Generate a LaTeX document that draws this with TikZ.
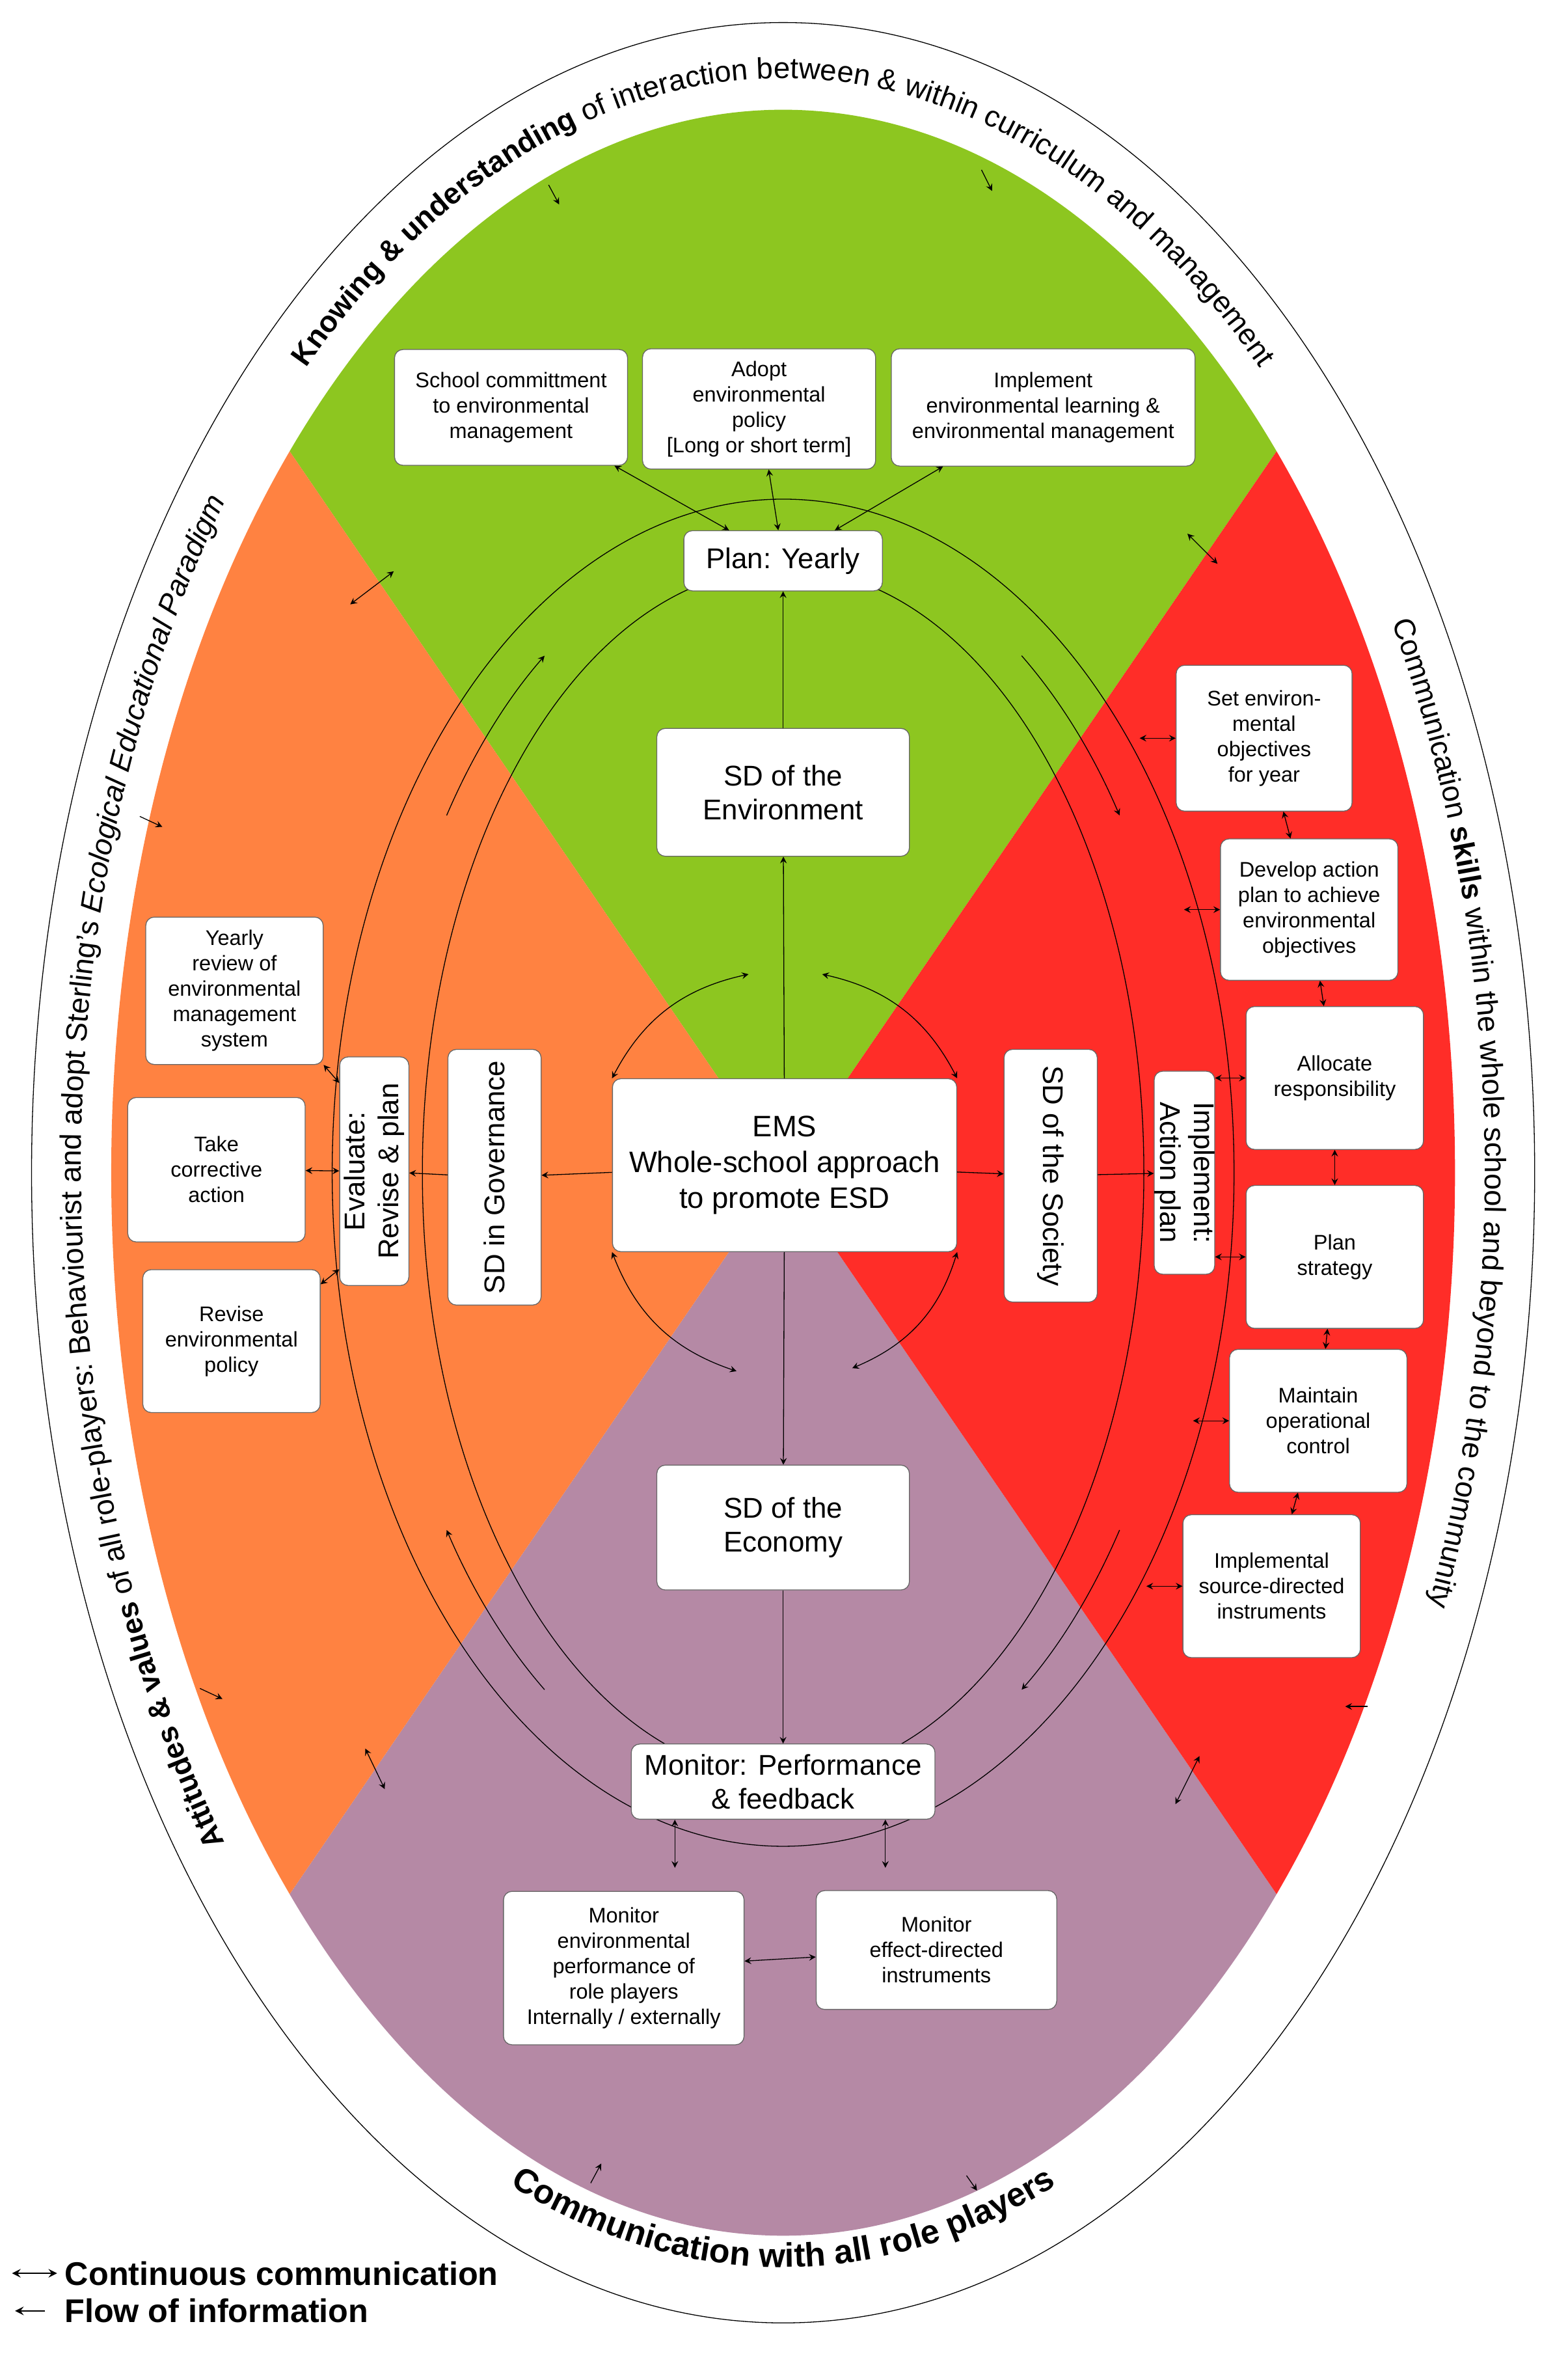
\documentclass[tikz,border=0pt]{standalone}
\usepackage{fontspec}
\setmainfont{Liberation Sans}
\usetikzlibrary{positioning,decorations.text,arrows}
\definecolor{envgreen}{RGB}{141,198,32}
\definecolor{socred}{RGB}{255,45,40}
\definecolor{govorange}{RGB}{255,130,65}
\definecolor{ecopurple}{RGB}{181,137,165}
\tikzset{
  box/.style={draw=black!60, fill=white, rounded corners=4pt, align=center,
    font=\fontsize{10}{12}\selectfont, inner sep=1pt},
  bigbox/.style={box, font=\fontsize{13.5}{16}\selectfont},
  comm/.style={<->, >=stealth},
  flow/.style={->, >=stealth},
  ringtext/.style={decorate, decoration={text along path, text align=center}}
}
\begin{document}
\begin{tikzpicture}[x=0.025cm,y=0.025cm]
\useasboundingbox (0,0) rectangle (1043,1573);
\coordinate (c) at (521,793);

% Quadrants
\begin{scope}
  \clip (c) ellipse [x radius=447, y radius=707];
  \fill[envgreen]  (c) -- ++(-975,1425) -- ++(1950,0) -- cycle;
  \fill[ecopurple] (c) -- ++(-975,-1425) -- ++(1950,0) -- cycle;
  \fill[govorange] (c) -- ++(-975,1425) -- ++(0,-2850) -- cycle;
  \fill[socred]    (c) -- ++(975,1425) -- ++(0,-2850) -- cycle;
\end{scope}
\draw (c) ellipse [x radius=500, y radius=765];
\draw (c) ellipse [x radius=300, y radius=448];
\draw (c) ellipse [x radius=240, y radius=402];

% Ring texts
\begin{scope}
\fontsize{14}{16}\selectfont
\path[ringtext, decoration={text={|\bfseries|Knowing {\&} understanding|| of interaction between {\&} within curriculum and management}}]
  ([shift={(143:468 and 728)}]c) arc[start angle=143, end angle=37, x radius=468, y radius=728];
\path[ringtext, decoration={text={|\bfseries|Attitudes {\&} values|| of all role-players: Behaviourist and adopt Sterling's |\itshape|Ecological Educational Paradigm}}]
  ([shift={(219:467 and 735)}]c) arc[start angle=219, end angle=141, x radius=467, y radius=735];
\path[ringtext, decoration={text={Communication |\bfseries|skills|| within the whole school and beyond to the community}}]
  ([shift={(33:467 and 735)}]c) arc[start angle=33, end angle=-26, x radius=467, y radius=735];
\end{scope}
\begin{scope}
\fontsize{16}{18}\selectfont
\path[ringtext, decoration={text={|\bfseries|Communication with all role players}}]
  ([shift={(245:478 and 728)}]c) arc[start angle=245, end angle=295, x radius=478, y radius=728];
\end{scope}

% Flow arcs on the cycle
\draw[flow] ([shift={(146:270 and 425)}]c) arc[start angle=146, end angle=126, x radius=270, y radius=425];
\draw[flow] ([shift={(54:270 and 425)}]c) arc[start angle=54, end angle=34, x radius=270, y radius=425];
\draw[flow] ([shift={(-34:270 and 425)}]c) arc[start angle=-34, end angle=-54, x radius=270, y radius=425];
\draw[flow] ([shift={(-126:270 and 425)}]c) arc[start angle=-126, end angle=-146, x radius=270, y radius=425];

% Nodes
\node[box, minimum width=3.875cm, minimum height=1.925cm] (commit) at (340,1302) {School committment\\to environmental\\management};
\node[box, minimum width=3.875cm, minimum height=2cm] (adopt) at (505,1301) {Adopt\\environmental\\policy\\{[}Long or short term{]}};
\node[box, minimum width=5.05cm, minimum height=1.95cm] (implem) at (694,1302) {Implement\\environmental learning \&\\environmental management};
\node[bigbox, minimum width=3.3cm, minimum height=1cm] (plan) at (521,1200) {Plan: Yearly};
\node[bigbox, minimum width=4.2cm, minimum height=2.125cm] (sdenv) at (521,1046) {SD of the\\Environment};
\node[box, font=\fontsize{14}{17}\selectfont, minimum width=5.725cm, minimum height=2.875cm] (ems) at (522,798) {EMS\\Whole-school approach\\to promote ESD};
\node[bigbox, minimum width=4.2cm, minimum height=2.075cm] (sdeco) at (521,557) {SD of the\\Economy};
\node[bigbox, minimum width=5.05cm, minimum height=1.25cm] (monitor) at (521,388) {Monitor: Performance\\\& feedback};
\node[box, minimum width=4cm, minimum height=2.55cm] (monrole) at (415,264) {Monitor\\environmental\\performance of\\role players\\Internally / externally};
\node[box, minimum width=4cm, minimum height=1.975cm] (moneff) at (623,276) {Monitor\\effect-directed\\instruments};
\node[bigbox, rotate=90, minimum width=4.25cm, minimum height=1.55cm] (sdgov) at (329,790) {SD in Governance};
\node[bigbox, rotate=90, minimum width=3.8cm, minimum height=1.15cm, inner sep=0pt] (eval) at (249,794) {Evaluate:\\Revise \& plan};
\node[box, minimum width=2.95cm, minimum height=2.45cm] (review) at (156,914) {Yearly\\review of\\environmental\\management\\system};
\node[box, minimum width=2.95cm, minimum height=2.4cm] (correct) at (144,795) {Take\\corrective\\action};
\node[box, minimum width=2.95cm, minimum height=2.375cm] (revise) at (154,681) {Revise\\environmental\\policy};
\node[bigbox, rotate=-90, minimum width=4.2cm, minimum height=1.55cm] (sdsoc) at (699,791) {SD of the Society};
\node[bigbox, rotate=-90, minimum width=3.375cm, minimum height=1cm, inner sep=0pt] (action) at (788,793) {Implement:\\Action plan};
\node[box, minimum width=2.925cm, minimum height=2.425cm] (setobj) at (841,1082) {Set environ-\\mental\\objectives\\for year};
\node[box, minimum width=2.95cm, minimum height=2.35cm] (develop) at (871,968) {Develop action\\plan to achieve\\environmental\\objectives};
\node[box, minimum width=2.95cm, minimum height=2.375cm] (allocate) at (888,856) {Allocate\\responsibility};
\node[box, minimum width=2.95cm, minimum height=2.375cm] (strategy) at (888,737) {Plan\\strategy};
\node[box, minimum width=2.95cm, minimum height=2.375cm] (control) at (877,628) {Maintain\\operational\\control};
\node[box, minimum width=2.95cm, minimum height=2.375cm] (source) at (846,518) {Implemental\\source-directed\\instruments};

% Main flows
\draw[flow] (ems) -- (sdenv);
\draw[flow] (sdenv) -- (plan);
\draw[flow] (ems) -- (sdeco);
\draw[flow] (sdeco) -- (monitor);
\draw[flow] (ems) -- (sdgov);
\draw[flow] (sdgov) -- (eval);
\draw[flow] (ems) -- (sdsoc);
\draw[flow] (sdsoc) -- (action);

% Communication
\draw[comm] (commit) -- (plan);
\draw[comm] (adopt) -- (plan);
\draw[comm] (implem) -- (plan);
\draw[comm] ([xshift=-1.8cm]monitor.south) -- ([xshift=-1.8cm,yshift=-0.8cm]monitor.south);
\draw[comm] ([xshift=1.7cm]monitor.south) -- ([xshift=1.7cm,yshift=-0.8cm]monitor.south);
\draw[comm] (monrole) -- (moneff);
\draw[comm] (review.south east) -- ([yshift=-0.3cm]review.south east -| eval.north);
\draw[comm] (correct) -- (eval);
\draw[comm] ([yshift=-0.25cm]revise.north east) -- ([yshift=0cm]revise.north east -| eval.north);
\draw[comm] (allocate.west -| action.north) -- (allocate.west);
\draw[comm] (strategy.west -| action.north) -- (strategy.west);
\draw[comm] ([xshift=-0.6cm]setobj.west) -- (setobj.west);
\draw[comm] ([xshift=-0.6cm]develop.west) -- (develop.west);
\draw[comm] ([xshift=-0.6cm]control.west) -- (control.west);
\draw[comm] ([xshift=-0.6cm]source.west) -- (source.west);
\draw[comm] (setobj) -- (develop);
\draw[comm] (develop) -- (allocate);
\draw[comm] (allocate) -- (strategy);
\draw[comm] (strategy) -- (control);
\draw[comm] (control) -- (source);
\draw[comm] (ems.north west) to[bend left=25] (498,925);
\draw[comm] (547,925) to[bend left=25] (ems.north east);
\draw[comm] (ems.south west) to[bend right=25] (490,661);
\draw[comm] (567,663) to[bend right=25] (ems.south east);

% Ring arrows
\draw[comm] (233,1171) -- (262,1193);
\draw[comm] (790,1218) -- (810,1198);
\draw[comm] (243,410) -- (256,383);
\draw[comm] (782,373) -- (798,405);
\draw[flow] (365,1450) -- (372,1437);
\draw[flow] (653,1460) -- (660,1446);
\draw[flow] (93,1030) -- (108,1023);
\draw[flow] (133,450) -- (148,443);
\draw[flow] (393,121) -- (400,134);
\draw[flow] (643,126) -- (650,116);
\draw[flow] (910,438) -- (895,438);

% Legend
\draw[comm, thick] (8,61) -- (38,61) node[right, font=\fontsize{15.5}{18}\selectfont\bfseries] {Continuous communication};
\draw[flow, thick] (30,36) -- (10,36);
\node[right, font=\fontsize{15.5}{18}\selectfont\bfseries] at (38,36) {Flow of information};
\end{tikzpicture}
\end{document}
